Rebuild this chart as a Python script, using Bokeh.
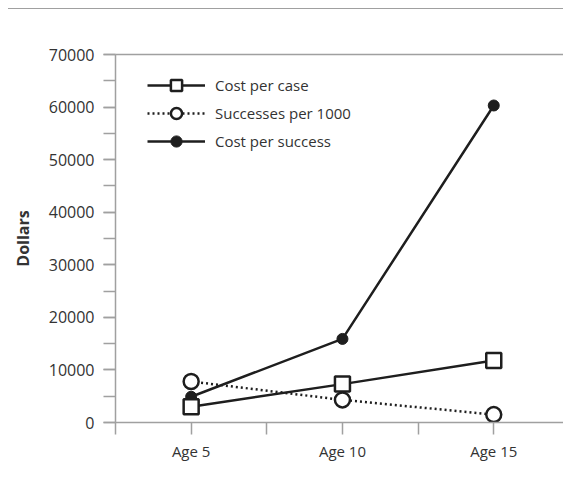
from bokeh.plotting import figure
from bokeh.models import (LinearAxis, FixedTicker, SingleIntervalTicker, Range1d,
                          Legend, LegendItem, ColumnDataSource)
from bokeh.embed import file_html
from bokeh.resources import INLINE

categories = ["Age 5", "Age 10", "Age 15"]
cost_per_case = [3000, 7300, 11800]
successes_per_1000 = [7800, 4300, 1500]
cost_per_success = [4900, 15900, 60300]
y_max = 70000
y_step = 10000

xpos = [i + 1 for i in range(len(categories))]
src = ColumnDataSource(dict(x=xpos, case=cost_per_case, succ=successes_per_1000,
                            cps=cost_per_success))

INK = "#1e1e1e"
GRAY = "#a0a0a0"
TXT = "#333333"
FONT = "Open Sans"

frame_w = 448
frame_h = 368
px_per_unit = 151.3

p = figure(frame_width=frame_w, frame_height=frame_h, output_backend="svg",
           toolbar_location=None,
           x_range=Range1d(0.5, 0.5 + frame_w / px_per_unit),
           y_range=Range1d(0, y_max),
           min_border_left=107, min_border_right=0, min_border_top=45,
           min_border_bottom=40, x_axis_type=None, y_axis_type=None)
p.margin = (8, 0, 0, 8)
p.styles = {"border-top": "1px solid #a0a0a0"}
p.outline_line_color = None
p.grid.visible = False
p.background_fill_color = "white"
p.border_fill_color = "white"

# x axis
xa = LinearAxis(ticker=FixedTicker(ticks=xpos, minor_ticks=[v - 0.5 for v in xpos] + [xpos[-1] + 0.5]))
xa.major_label_overrides = {xv: c for xv, c in zip(xpos, categories)}
xa.axis_line_color = GRAY
xa.axis_line_width = 1.5
xa.major_tick_line_color = GRAY
xa.minor_tick_line_color = GRAY
xa.major_tick_line_width = 1.5
xa.minor_tick_line_width = 1.5
xa.major_tick_in = 0
xa.major_tick_out = 12
xa.minor_tick_in = 0
xa.minor_tick_out = 12
xa.major_label_standoff = 6
xa.major_label_text_font = FONT
xa.major_label_text_font_size = "15px"
xa.major_label_text_color = TXT
p.add_layout(xa, "below")

# y axis
ya = LinearAxis(ticker=SingleIntervalTicker(interval=y_step, num_minor_ticks=2),
                axis_label="Dollars")
ya.axis_line_color = GRAY
ya.axis_line_width = 1.5
ya.major_tick_line_color = GRAY
ya.minor_tick_line_color = GRAY
ya.major_tick_line_width = 1.5
ya.minor_tick_line_width = 1.5
ya.major_tick_in = 0
ya.major_tick_out = 12
ya.minor_tick_in = 0
ya.minor_tick_out = 12
ya.major_label_standoff = 9
ya.major_label_text_font = FONT
ya.major_label_text_font_size = "16px"
ya.major_label_text_color = TXT
ya.axis_label_text_font = FONT
ya.axis_label_text_font_size = "16px"
ya.axis_label_text_font_style = "bold"
ya.axis_label_text_color = TXT
ya.axis_label_standoff = 12
p.add_layout(ya, "left")

# top frame line
ta = LinearAxis(ticker=FixedTicker(ticks=[]))
ta.axis_line_color = GRAY
ta.axis_line_width = 1.5
ta.major_tick_line_color = None
ta.minor_tick_line_color = None
ta.major_label_text_font_size = "0px"
ta.major_label_standoff = 0
p.add_layout(ta, "above")

# series
l2 = p.line("x", "succ", source=src, line_color=INK, line_width=2.5, line_dash="2 3")
s2 = p.scatter("x", "succ", source=src, marker="circle", size=15, fill_color="white",
               line_color=INK, line_width=2.5)
l3 = p.line("x", "cps", source=src, line_color=INK, line_width=2.5)
s3 = p.scatter("x", "cps", source=src, marker="circle", size=11, fill_color=INK,
               line_color=INK, line_width=1)
l1 = p.line("x", "case", source=src, line_color=INK, line_width=2.5)
s1 = p.scatter("x", "case", source=src, marker="square", size=15, fill_color="white",
               line_color=INK, line_width=2.5)

legend = Legend(items=[
    LegendItem(label="Cost per case", renderers=[l1, s1]),
    LegendItem(label="Successes per 1000", renderers=[l2, s2]),
    LegendItem(label="Cost per success", renderers=[l3, s3]),
], location=(32, 267))
legend.glyph_width = 58
legend.glyph_height = 28
legend.spacing = 0
legend.padding = 0
legend.margin = 0
legend.label_standoff = 10
legend.label_text_font = FONT
legend.label_text_font_size = "15px"
legend.label_text_color = TXT
legend.border_line_color = None
legend.background_fill_alpha = 0
p.add_layout(legend)

open("out.html", "w").write(file_html(p, INLINE))
